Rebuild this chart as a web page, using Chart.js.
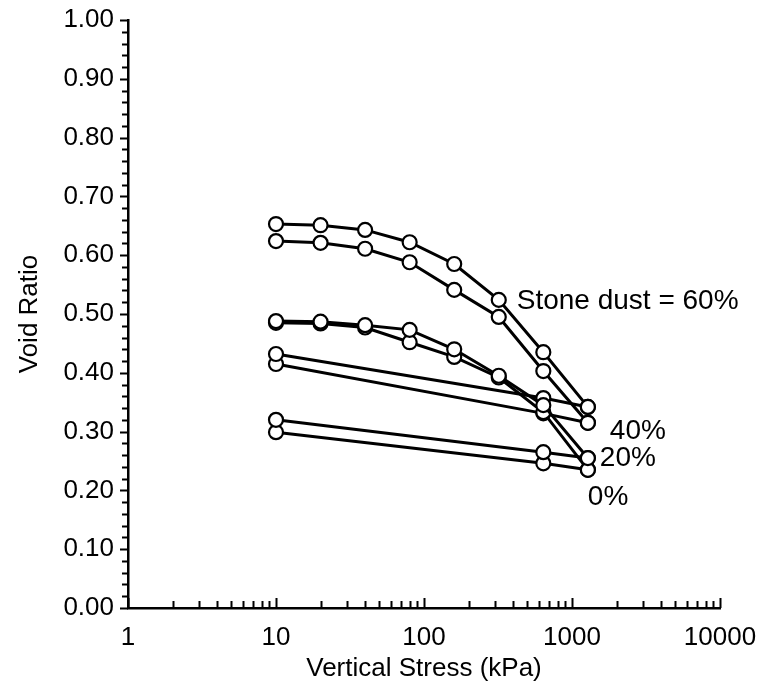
<!DOCTYPE html>
<html>
<head>
<meta charset="utf-8">
<script src="https://cdn.jsdelivr.net/npm/chart.js@4/dist/chart.umd.min.js"></script>
<style>
  html, body { margin: 0; padding: 0; background: #ffffff; }
  #wrap { width: 771px; height: 688px; }
</style>
</head>
<body>
<div id="wrap"><canvas id="c" width="771" height="688"></canvas></div>
<script>
// Vertical stress steps (kPa)
const stressFull = [10, 20, 40, 80, 160, 320, 640, 1280];
const stressShort = [10, 640, 1280];

// Void ratio per stone dust content, two tests each
const dust60a = [0.653, 0.651, 0.643, 0.622, 0.585, 0.524, 0.435, 0.342];
const dust60b = [0.624, 0.621, 0.611, 0.588, 0.541, 0.495, 0.403, 0.315];
const dust40a = [0.488, 0.487, 0.481, 0.473, 0.440, 0.395, 0.345, 0.255];
const dust40b = [0.485, 0.484, 0.477, 0.452, 0.427, 0.392, 0.333, 0.235];
const dust20a = [0.432, 0.357, 0.342];
const dust20b = [0.415, 0.331, 0.315];
const dust0a  = [0.320, 0.265, 0.255];
const dust0b  = [0.299, 0.246, 0.235];

// Axis tick labels
const xMajorTicks = [1, 10, 100, 1000, 10000];
const yTickStep = 0.1;

const FONT = "'Liberation Sans', Arial, sans-serif";

function toPoints(xs, ys) {
  return ys.map((y, i) => ({ x: xs[i], y: y }));
}

function series(label, xs, ys) {
  return {
    label: label,
    data: toPoints(xs, ys),
    showLine: true,
    borderColor: '#000000',
    borderWidth: 3,
    pointRadius: 7,
    pointBorderWidth: 2.2,
    pointBackgroundColor: '#ffffff',
    pointBorderColor: '#000000',
    tension: 0,
    clip: false
  };
}

// Tick marks: x ticks point up into the plot, y ticks point left
const tickMarks = {
  id: 'tickMarks',
  afterDraw(chart) {
    const ctx = chart.ctx;
    const xs = chart.scales.x, ys = chart.scales.y;
    const area = chart.chartArea;
    ctx.save();
    ctx.strokeStyle = '#000000';
    ctx.lineWidth = 2;
    ctx.beginPath();
    for (let d = 1; d <= 1000; d *= 10) {
      for (let k = 2; k <= 9; k++) {
        const px = Math.round(xs.getPixelForValue(d * k)) + 0.5;
        ctx.moveTo(px, area.bottom);
        ctx.lineTo(px, area.bottom - 7);
      }
    }
    xMajorTicks.forEach(v => {
      const px = Math.round(xs.getPixelForValue(v)) + 0.5;
      ctx.moveTo(px, area.bottom);
      ctx.lineTo(px, area.bottom - 10);
    });
    for (let i = 0; i <= 50; i++) {
      const v = i * 0.02;
      const py = Math.round(ys.getPixelForValue(v)) + 0.5;
      const len = (i % 5 === 0) ? 8 : 6;
      ctx.moveTo(area.left, py);
      ctx.lineTo(area.left - len, py);
    }
    ctx.stroke();

    // Series annotations
    ctx.fillStyle = '#000000';
    ctx.font = '28px ' + FONT;
    ctx.textBaseline = 'middle';
    ctx.textAlign = 'left';
    ctx.fillText('Stone dust = 60%', xs.getPixelForValue(320) + 18, ys.getPixelForValue(0.522));
    ctx.fillText('40%', xs.getPixelForValue(1280) + 22, ys.getPixelForValue(0.300));
    ctx.fillText('20%', xs.getPixelForValue(1280) + 12, ys.getPixelForValue(0.254));
    ctx.fillText('0%', xs.getPixelForValue(1280), ys.getPixelForValue(0.189));
    ctx.restore();
  }
};

new Chart(document.getElementById('c'), {
  type: 'scatter',
  data: {
    datasets: [
      series('Stone dust 60% (a)', stressFull, dust60a),
      series('Stone dust 60% (b)', stressFull, dust60b),
      series('Stone dust 40% (a)', stressFull, dust40a),
      series('Stone dust 40% (b)', stressFull, dust40b),
      series('Stone dust 20% (a)', stressShort, dust20a),
      series('Stone dust 20% (b)', stressShort, dust20b),
      series('Stone dust 0% (a)', stressShort, dust0a),
      series('Stone dust 0% (b)', stressShort, dust0b)
    ]
  },
  options: {
    responsive: false,
    animation: false,
    layout: { padding: { top: 20, right: 51, left: 0, bottom: 0 } },
    plugins: { legend: { display: false }, tooltip: { enabled: false } },
    scales: {
      x: {
        type: 'logarithmic',
        min: 1,
        max: 10000,
        afterBuildTicks(scale) {
          scale.ticks = xMajorTicks.map(v => ({ value: v, major: true }));
        },
        afterFit(scale) {
          scale.height = 80;
          scale.paddingLeft = 0;
          scale.paddingRight = 0;
        },
        grid: { display: false, drawTicks: false },
        border: { display: true, color: '#000000', width: 2.5 },
        ticks: {
          color: '#000000',
          font: { family: FONT, size: 26 },
          padding: 14,
          maxRotation: 0,
          autoSkip: false,
          callback: v => String(v)
        },
        title: {
          display: true,
          text: 'Vertical Stress (kPa)',
          color: '#000000',
          font: { family: FONT, size: 26 },
          padding: { top: 0, bottom: 4 }
        }
      },
      y: {
        min: 0,
        max: 1,
        afterFit(scale) {
          scale.width = 128;
          scale.paddingTop = 0;
          scale.paddingBottom = 0;
        },
        grid: { display: false, drawTicks: false },
        border: { display: true, color: '#000000', width: 2.5 },
        ticks: {
          stepSize: yTickStep,
          color: '#000000',
          font: { family: FONT, size: 26 },
          padding: 14,
          callback: v => Number(v).toFixed(2)
        },
        title: {
          display: true,
          text: 'Void Ratio',
          color: '#000000',
          font: { family: FONT, size: 26 },
          padding: { top: 14, bottom: 0 }
        }
      }
    }
  },
  plugins: [tickMarks]
});
</script>
</body>
</html>
